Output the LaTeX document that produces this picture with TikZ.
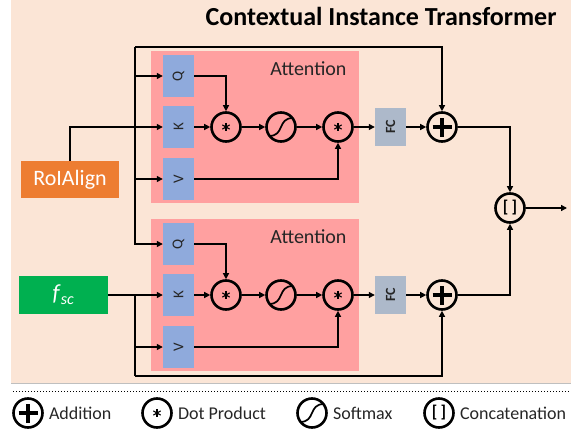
\documentclass[tikz,border=0pt]{standalone}
\usepackage{fontspec}
\setmainfont{Carlito}
\usepackage{graphicx}
\usepackage{xcolor}
\usepackage{tikz}
\usetikzlibrary{positioning,arrows.meta}

\definecolor{peach}{HTML}{FBE5D6}
\definecolor{attnpink}{HTML}{FFA0A0}
\definecolor{qkvblue}{HTML}{8FAADC}
\definecolor{fcgray}{HTML}{ADB9CA}
\definecolor{roiorange}{HTML}{ED7D31}
\definecolor{scgreen}{HTML}{00B050}

\begin{document}
\begin{tikzpicture}[x=1pt,y=-1pt,
    arr/.style={-{Triangle[length=6pt,width=6pt]},line width=1.3pt},
    wire/.style={line width=1.3pt},
    qkv/.style={fill=qkvblue,minimum width=31pt,minimum height=42pt,inner sep=0pt,text=black!85,font=\fontsize{15}{15}\selectfont},
    fcbox/.style={fill=fcgray,minimum width=31pt,minimum height=38pt,inner sep=0pt,text=black!85,font=\bfseries\fontsize{14}{14}\selectfont},
    op/.style={circle,draw,line width=2.6pt,minimum size=29pt,inner sep=0pt},
    addop/.style={op,path picture={
        \draw[line width=3.2pt] ([xshift=-9.5pt]path picture bounding box.center) -- ([xshift=9.5pt]path picture bounding box.center);
        \draw[line width=3.2pt] ([yshift=-9.5pt]path picture bounding box.center) -- ([yshift=9.5pt]path picture bounding box.center);}},
    dotop/.style={op,path picture={
        \foreach \a in {90,30,150}
            \draw[line width=1.1pt] ([shift={(\a:4.2pt)}]path picture bounding box.center) -- ([shift={(\a+180:4.2pt)}]path picture bounding box.center);}},
    softop/.style={op,path picture={
        \draw[line width=1.7pt] ([shift={(-12pt,-9pt)}]path picture bounding box.center) .. controls +(16pt,0pt) and +(-16pt,0pt) .. ([shift={(12pt,9pt)}]path picture bounding box.center);}},
    catop/.style={op,font=\bfseries\fontsize{17}{17}\selectfont},
    attnlabel/.style={anchor=base,font=\fontsize{20}{20}\selectfont,text=black!85},
    legtext/.style={inner sep=1pt,font=\fontsize{18}{18}\selectfont,text=black!85}
]
\useasboundingbox (0,0) rectangle (571,431);
\fill[peach] (11,0) rectangle (571,383);
\draw[black!25,line width=0.6pt] (11,383) -- (571,383);
\draw[dotted,line width=1pt] (13,391) -- (571,391);

\node[anchor=base east,font=\bfseries\fontsize{26}{26}\selectfont] (title) at (560,26) {Contextual Instance Transformer};

\foreach \i/\dy in {1/0,2/168} {
    \fill[attnpink] (151,51+\dy) rectangle (359,203+\dy);
    \node[attnlabel] (att\i) at (308.5,75+\dy) {Attention};
    \node[qkv] (q\i) at (178.5,76+\dy) {\rotatebox{90}{Q}};
    \node[qkv] (k\i) at (178.5,127+\dy) {\rotatebox{90}{K}};
    \node[qkv] (v\i) at (178.5,179+\dy) {\rotatebox{90}{V}};
    \node[dotop] (mul\i) at (226,127+\dy) {};
    \node[softop] (soft\i) at (281,127+\dy) {};
    \node[dotop] (wsum\i) at (338,127+\dy) {};
    \node[fcbox] (fc\i) at (390.5,127+\dy) {\rotatebox{90}{FC}};
    \node[addop] (add\i) at (442,127+\dy) {};
    \draw[arr] (q\i) -| (mul\i);
    \draw[arr] (k\i) -- (mul\i);
    \draw[arr] (mul\i) -- (soft\i);
    \draw[arr] (soft\i) -- (wsum\i);
    \draw[arr] (v\i) -| (wsum\i);
    \draw[arr] (wsum\i) -- (fc\i);
    \draw[arr] (fc\i) -- (add\i);
}

\node[fill=roiorange,text=white,minimum width=98pt,minimum height=37pt,font=\fontsize{22}{22}\selectfont] (roi) at (70,179.5) {RoIAlign};
\node[fill=scgreen,text=white,minimum width=89pt,minimum height=38pt,font=\fontsize{23}{23}\selectfont] (fsc) at (63.5,295) {\textit{f}\textsubscript{\textit{sc}}};

\coordinate (jroi) at (135,127);
\coordinate (tl) at (135,47);
\draw[arr] (roi) |- (k1);
\draw[wire] (jroi) -- (tl);
\draw[arr] (tl) -| (add1);
\draw[arr] (tl) |- (q1);
\draw[arr] (tl) |- (v1);
\draw[arr] (tl) |- (q2);

\coordinate (jsc) at (135,295);
\coordinate (bl) at (135,376);
\draw[arr] (fsc) -- (k2);
\draw[wire] (jsc) -- (bl);
\draw[arr] (bl) |- (v2);
\draw[arr] (bl) -| (add2);

\node[catop] (cat) at (510,208) {[\hspace{3pt}]};
\coordinate (out) at (567,208);
\draw[arr] (add1) -| (cat);
\draw[arr] (add2) -| (cat);
\draw[arr] (cat) -- (out);

% legend
\node[addop] (lgadd) at (28,413) {};
\node[legtext,right=4pt of lgadd] (lgaddtxt) {Addition};
\node[dotop] (lgdot) at (157,413) {};
\node[legtext,right=4pt of lgdot] (lgdottxt) {Dot Product};
\node[softop] (lgsoft) at (312,413) {};
\node[legtext,right=4pt of lgsoft] (lgsofttxt) {Softmax};
\node[catop] (lgcat) at (439,413) {[\hspace{3pt}]};
\node[legtext,right=4pt of lgcat] (lgcattxt) {Concatenation};
\end{tikzpicture}
\end{document}
